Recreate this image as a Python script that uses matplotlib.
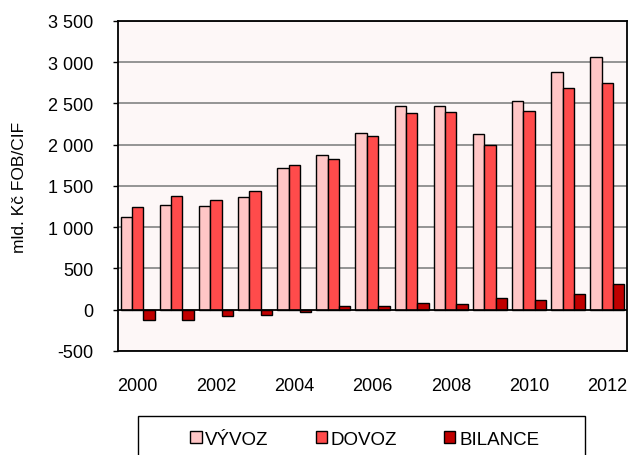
import numpy as np
import matplotlib.pyplot as plt
from matplotlib.patches import Rectangle
from matplotlib.ticker import FuncFormatter

plt.rcParams['font.family'] = ['Liberation Sans', 'DejaVu Sans']

years = list(range(2000, 2013))
vyvoz = [1119, 1268, 1252, 1369, 1720, 1870, 2144, 2471, 2471, 2136, 2531, 2879, 3064]
dovoz = [1240, 1381, 1325, 1438, 1752, 1825, 2107, 2390, 2402, 1991, 2410, 2689, 2754]
bilance = [-125, -121, -73, -69, -32, 41, 40, 85, 69, 145, 121, 194, 311]

labels = ["VÝVOZ", "DOVOZ", "BILANCE"]
colors = ["#FFC6C6", "#FF4B4B", "#C00000"]


def space_thousands(v, pos):
    s = "{:,.0f}".format(v).replace(",", " ")
    return s


def main():
    fig = plt.figure(figsize=(6.29, 4.56), dpi=100)
    ax = fig.add_axes([0.1876, 0.2281, 0.8092, 0.7237])
    ax.set_facecolor("#FDF7F7")

    x = np.arange(len(years))
    w = 0.29
    for i, (vals, lab, col) in enumerate(zip([vyvoz, dovoz, bilance], labels, colors)):
        ax.bar(x + (i - 1) * w, vals, w, color=col, edgecolor="black",
               linewidth=1.0, label=lab, zorder=3)

    ax.set_xlim(-0.5, len(years) - 0.5)
    ax.set_ylim(-500, 3500)
    ax.set_yticks(np.arange(-500, 3501, 500))
    ax.yaxis.set_major_formatter(FuncFormatter(space_thousands))
    ax.yaxis.grid(True, color="#8C8C8C", linewidth=1.3, zorder=1)
    ax.axhline(0, color="black", linewidth=1.2, zorder=4)

    ax.set_xticks(x[::2])
    ax.set_xticklabels([str(y) for y in years[::2]])
    ax.tick_params(axis="x", length=0, pad=19, labelsize=13)
    ax.tick_params(axis="y", length=3.6, width=1, direction="out", pad=14, labelsize=13)

    for sp in ax.spines.values():
        sp.set_linewidth(1.3)
        sp.set_color("black")

    ax.set_ylabel("mld. Kč FOB/CIF", fontsize=12.5, labelpad=15)

    # legend box runs off the bottom edge
    fig.patches.append(Rectangle((0.2194, -0.05), 0.7107, 0.1355,
                                 transform=fig.transFigure, fill=False,
                                 edgecolor="black", linewidth=1.0))
    fig.legend(loc="center", bbox_to_anchor=(0.58, 0.035), ncol=3,
               frameon=False, fontsize=13.5, handlelength=0.6, handleheight=0.6,
               handletextpad=0.2, columnspacing=2.5)

    fig.savefig("out.png", dpi=100)


if __name__ == "__main__":
    main()
